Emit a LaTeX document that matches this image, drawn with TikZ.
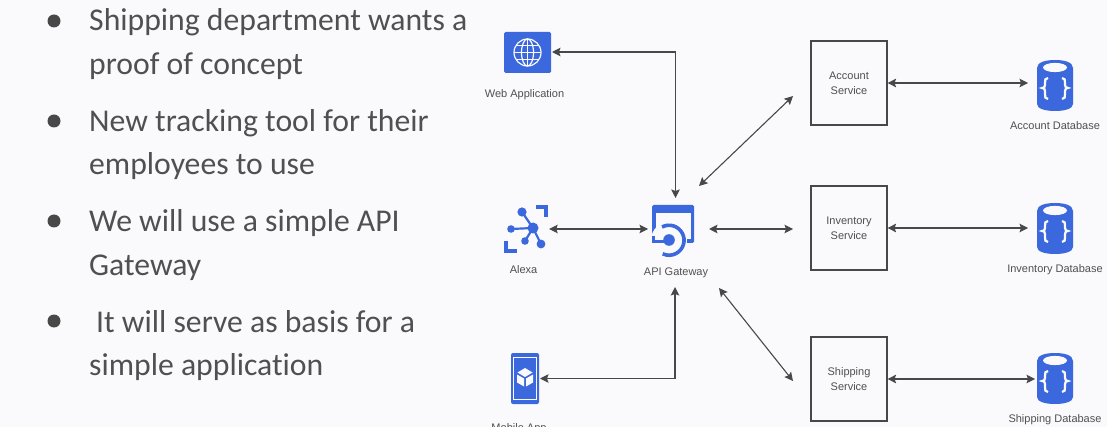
\documentclass[tikz,border=0pt]{standalone}
\usepackage{fontspec}
\setmainfont{Liberation Sans}
\newfontfamily\bulletfont[Ligatures=NoCommon]{Carlito}
\usetikzlibrary{arrows.meta,calc}
\definecolor{pagebg}{HTML}{FAF9FC}
\definecolor{iconblue}{HTML}{3B68DC}
\definecolor{txtgray}{HTML}{505050}
\definecolor{linegray}{HTML}{484848}
\tikzset{
  x=1pt,y=-1pt,
  bullettext/.style={anchor=base west,inner sep=0pt,font=\bulletfont\fontsize{31.7}{31.7}\selectfont,text=txtgray},
  bulletdot/.style={circle,fill=txtgray!90!black,minimum size=13pt,inner sep=0pt},
  label/.style={inner sep=0pt,font=\fontsize{11}{15}\selectfont,text=txtgray,align=center},
  service/.style={draw=linegray,line width=1.1pt,minimum width=76pt,minimum height=84pt,inner sep=0pt,fill=pagebg,font=\fontsize{11}{15}\selectfont,text=txtgray,align=center},
  iconbox/.style={inner sep=0pt,minimum width=#1,minimum height=#1},
  link/.style={draw=linegray,line width=1.1pt,{Stealth[length=8.5pt,width=8.5pt,inset=1.5pt]}-{Stealth[length=8.5pt,width=8.5pt,inset=1.5pt]}},
  whiteline/.style={draw=pagebg,line width=1.4pt},
  dbpic/.pic={
    \fill[iconblue] (-18,-20) .. controls (-18,-26) and (-9,-28) .. (0,-28) .. controls (9,-28) and (18,-26) .. (18,-20)
      -- (18,16) .. controls (18,21) and (9,23) .. (0,23) .. controls (-9,23) and (-18,21) .. (-18,16) -- cycle;
    \fill[pagebg] (0,-20.5) ellipse [x radius=12,y radius=4.6];
    \draw[pagebg,line width=2.2pt] (-7,-10) .. controls (-10,-10) and (-10,-8) .. (-10,-5) -- (-10,-3) .. controls (-10,-1) and (-11,0) .. (-13,0)
       .. controls (-11,0) and (-10,1) .. (-10,3) -- (-10,6) .. controls (-10,9) and (-10,11) .. (-7,11);
    \draw[pagebg,line width=2.2pt] (7,-10) .. controls (10,-10) and (10,-8) .. (10,-5) -- (10,-3) .. controls (10,-1) and (11,0) .. (13,0)
       .. controls (11,0) and (10,1) .. (10,3) -- (10,6) .. controls (10,9) and (10,11) .. (7,11);
  }
}
\begin{document}
\begin{tikzpicture}
\path[use as bounding box,clip] (0,0) rectangle (1107,427);
\fill[pagebg] (0,0) rectangle (1107,427);

% bullets
\node[bulletdot] (b1) at (54,21) {};
\node[bulletdot] (b2) at (54,121) {};
\node[bulletdot] (b3) at (54,221) {};
\node[bulletdot] (b4) at (54,321) {};
\node[bullettext] (t1a) at (89,31) {Shipping department wants a};
\node[bullettext] (t1b) at (89,75) {proof of concept};
\node[bullettext] (t2a) at (89,132) {New tracking tool for their};
\node[bullettext] (t2b) at (89,175) {employees to use};
\node[bullettext] (t3a) at (89,232) {We will use a simple API};
\node[bullettext] (t3b) at (89,276) {Gateway};
\node[bullettext] (t4a) at (96,332) {It will serve as basis for a};
\node[bullettext] (t4b) at (89,375) {simple application};

% web icon
\fill[iconblue,rounded corners=1.5pt] (504,32) rectangle (551,73);
\begin{scope}[whiteline,line width=1.2pt]
  \draw (527.5,52.5) circle [radius=13.5];
  \draw (527.5,52.5) ellipse [x radius=6,y radius=13.5];
  \draw (527.5,39) -- (527.5,66);
  \draw (514,52.5) -- (541,52.5);
  \draw (516,45.5) -- (539,45.5);
  \draw (516,59.5) -- (539,59.5);
\end{scope}
\node[iconbox=1pt,minimum width=47pt,minimum height=41pt] (web) at (527.5,52.5) {};
\coordinate (webE) at (552,52);
\node[label] (webl) at (524.5,95) {Web Application};

% alexa icon
\begin{scope}[iconblue]
  \draw[line width=2.2pt] (533,228) -- (522,212) (533,228) -- (511,229) (533,228) -- (525,241) (533,228) -- (541,244);
  \fill (533,228) circle [radius=5.5];
  \fill (522,212) circle [radius=4.6];
  \fill (511,229) circle [radius=3.8];
  \fill (525,241) circle [radius=3.8];
  \fill (541,244) circle [radius=4.4];
  \draw[line width=4pt] (536,207) -- (546,207) -- (546,217);
  \draw[line width=4pt] (506,241) -- (506,251) -- (517,251);
\end{scope}
\node[iconbox=48pt] (alexa) at (526,229) {};
\node[label] (alexal) at (523.5,270) {Alexa};

% gateway icon
\fill[iconblue,rounded corners=1.5pt] (652,205) rectangle (694,243);
\fill[pagebg] (655.5,213.5) rectangle (690.5,239.5);
\fill[pagebg] (669,240) circle [radius=18];
\draw[iconblue,line width=3.6pt] (662,227) arc [start angle=-118,end angle=115,radius=15];
\fill[iconblue] (669,240) circle [radius=5.8];
\draw[iconblue,line width=3.4pt] (653.7,236) -- (653.7,241.3) -- (666,241.3);
\node[iconbox=40pt] (gw) at (673,229) {};
\node[label] (gwl) at (676,273) {API Gateway};
\coordinate (gwT) at (675.5,198);
\coordinate (gwL) at (648,229);
\coordinate (gwR) at (709,229);
\coordinate (gwB) at (675,287);
\coordinate (gwUR) at (699,186);
\coordinate (gwLR) at (719,288);

% phone icon
\fill[iconblue,rounded corners=2pt] (511,353) rectangle (539,404);
\draw[whiteline,line width=.9pt] (513.5,357.5) rectangle (536.5,399.5);
\fill[pagebg] (525,368) -- (532.5,372.5) -- (525,377) -- (517.5,372.5) -- cycle;
\fill[pagebg] (517,374.5) -- (524,378.5) -- (524,386.5) -- (517,382.5) -- cycle;
\fill[pagebg] (533,374.5) -- (526,378.5) -- (526,386.5) -- (533,382.5) -- cycle;
\node[iconbox=30pt,minimum height=51pt] (mobile) at (525,378.5) {};
\coordinate (mobE) at (540,378.5);
\node[label] (mobl) at (519,429) {Mobile App};

% services
\node[service] (acc) at (849,83) {Account\\Service};
\node[service] (inv) at (849,228) {Inventory\\Service};
\node[service] (ship) at (849,379) {Shipping\\Service};
\coordinate (accW) at (793,96);
\coordinate (invW) at (793,229);
\coordinate (shipW) at (793,381);

% databases
\pic at (1055,88) {dbpic};
\pic at (1055,231) {dbpic};
\pic at (1055,381) {dbpic};
\node[iconbox=36pt,minimum height=51pt] (adb) at (1055,85.5) {};
\node[iconbox=36pt,minimum height=51pt] (idb) at (1055,228.5) {};
\node[iconbox=36pt,minimum height=51pt] (sdb) at (1055,378.5) {};
\coordinate (adbW) at (1028,83);
\coordinate (idbW) at (1028,228);
\coordinate (sdbW) at (1035,379);
\node[label] (adbl) at (1055,126) {Account Database};
\node[label] (idbl) at (1055,270) {Inventory Database};
\node[label] (sdbl) at (1055,420) {Shipping Database};

% connectors
\draw[link] (webE) -| (gwT);
\draw[link] (alexa.east) ++(-1,0) coordinate (alE) (alE) -- (gwL);
\draw[link] (mobE) -| (gwB);
\draw[link] (gwUR) -- (accW);
\draw[link] (gwR) -- (invW);
\draw[link] (gwLR) -- (shipW);
\draw[link] (acc.east |- adbW) -- (adbW);
\draw[link] (inv.east |- idbW) -- (idbW);
\draw[link] (ship.east |- sdbW) -- (sdbW);
\end{tikzpicture}
\end{document}
